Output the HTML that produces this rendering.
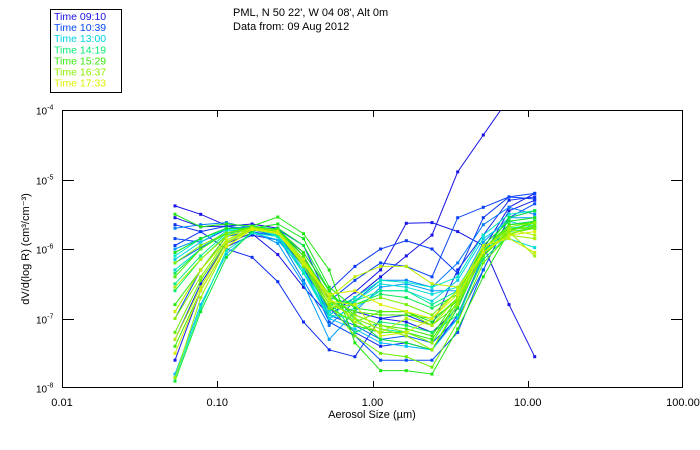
<!DOCTYPE html>
<html><head><meta charset="utf-8"><style>
body{margin:0;background:#fff;}
svg{display:block;font-family:"Liberation Sans",sans-serif;}
</style></head><body>
<svg id="chart" width="700" height="450" viewBox="0 0 700 450" xmlns="http://www.w3.org/2000/svg">
<defs><clipPath id="plotclip"><rect x="62" y="110" width="621" height="278"/></clipPath></defs>
<rect x="0" y="0" width="700" height="450" fill="#fff"/>
<g id="legend">
<rect x="50.5" y="9.5" width="71" height="83" fill="#fff" stroke="#000" stroke-width="1"/>
</g>
<text x="233" y="16" font-size="11">PML, N 50 22', W 04 08', Alt 0m</text>
<text x="233" y="30" font-size="11">Data from: 09 Aug 2012</text>
<g id="series" clip-path="url(#plotclip)"></g>
<g id="axes"></g>
<text x="372" y="418" font-size="11" text-anchor="middle">Aerosol Size (µm)</text>
<text transform="translate(29,249) rotate(-90)" font-size="11" text-anchor="middle">dV/d(log R) (cm³/cm⁻³)</text>
</svg>
<script>
const legendTimes = ["09:10","10:39","13:00","14:19","15:29","16:37","17:33"];
const legendHours = [9.17,10.65,13.0,14.32,15.48,16.62,17.55];
const sizeLogStart = -1.272;
const sizeLogStep = 0.1655;
const seriesHours = [9.17,9.3,9.5,9.7,9.9,10.2,10.5,10.65,11,11.5,12,12.5,13,13.3,13.6,13.9,14.2,14.4,14.6,14.8,15.0,15.2,15.4,15.6,15.8,16.0,16.2,16.4,16.6,16.8,17.0,17.2,17.35,17.5];
const seriesLogDV = [
[-5.38,-5.5,-5.66,-5.78,-6.08,-6.55,-6.95,-6.7,-6.4,-6.1,-5.8,-4.89,-4.36,-3.83,-3.3],
[-5.55,-5.68,-5.67,-5.64,-5.7,-6.1,-6.9,-6.62,-6.3,-5.63,-5.62,-5.75,-5.95,-6.8,-7.55],
[-7.6,-6.6,-5.97,-5.8,-5.87,-6.2,-6.75,-6.9,-7.0,-7.05,-7.2,-6.85,-6.0,-5.4,-5.2],
[-7.3,-6.5,-5.92,-5.77,-5.87,-6.3,-6.85,-7.2,-7.4,-7.35,-7.45,-6.95,-6.1,-5.45,-5.3],
[-5.65,-5.75,-6.0,-6.12,-6.47,-7.05,-7.45,-7.55,-7.0,-6.95,-7.1,-6.3,-5.8,-5.3,-5.25],
[-5.95,-5.75,-5.67,-5.72,-5.74,-6.05,-6.6,-6.25,-6.0,-5.88,-6.0,-6.35,-5.55,-5.25,-5.28],
[-5.85,-5.9,-5.72,-5.67,-5.72,-5.95,-6.75,-6.45,-6.2,-6.25,-6.4,-5.55,-5.4,-5.25,-5.2],
[-7.0,-6.3,-5.82,-5.75,-5.82,-6.25,-7.05,-7.25,-7.6,-7.6,-7.6,-7.2,-6.3,-5.55,-5.35],
[-6.2,-5.98,-5.77,-5.72,-5.82,-6.2,-6.95,-7.1,-7.3,-7.25,-7.35,-7.0,-6.3,-5.55,-5.45],
[-5.7,-5.65,-5.62,-5.7,-5.82,-6.45,-7.1,-6.75,-6.45,-6.45,-6.55,-6.2,-5.65,-5.4,-5.5],
[-6.0,-5.85,-5.7,-5.74,-5.92,-6.5,-7.3,-6.9,-6.55,-6.5,-6.6,-6.6,-5.9,-5.55,-5.55],
[-7.8,-6.8,-6.07,-5.77,-5.87,-6.3,-7.0,-7.15,-7.35,-7.4,-7.45,-7.0,-6.1,-5.65,-5.6],
[-6.15,-5.9,-5.7,-5.69,-5.82,-6.35,-7.0,-6.85,-6.6,-6.6,-6.75,-6.45,-5.85,-5.6,-5.7],
[-6.3,-6.0,-5.74,-5.72,-5.8,-6.3,-6.95,-6.75,-6.5,-6.55,-6.65,-6.55,-6.0,-5.85,-5.98],
[-6.1,-5.85,-5.72,-5.7,-5.77,-6.25,-6.9,-6.7,-6.45,-6.48,-6.55,-6.4,-5.8,-5.5,-5.45],
[-7.85,-6.85,-6.02,-5.77,-5.82,-6.35,-6.95,-7.0,-7.15,-7.2,-7.35,-6.8,-6.05,-5.7,-5.65],
[-6.5,-6.1,-5.77,-5.7,-5.74,-6.2,-6.8,-6.75,-6.6,-6.6,-6.8,-6.6,-6.1,-5.75,-5.7],
[-6.6,-6.15,-5.8,-5.67,-5.72,-6.15,-6.75,-7.2,-7.05,-7.1,-7.2,-6.95,-6.15,-5.8,-5.85],
[-6.35,-6.0,-5.77,-5.69,-5.72,-6.1,-6.7,-6.8,-6.65,-6.7,-6.85,-6.65,-6.0,-5.65,-5.6],
[-7.9,-6.9,-6.12,-5.74,-5.7,-5.95,-6.6,-7.0,-7.3,-7.35,-7.45,-6.85,-6.05,-5.55,-5.45],
[-6.05,-5.85,-5.7,-5.7,-5.64,-5.85,-6.55,-6.85,-6.9,-6.9,-7.05,-6.7,-5.95,-5.6,-5.55],
[-5.5,-5.68,-5.64,-5.67,-5.54,-5.78,-6.3,-7.35,-7.75,-7.75,-7.8,-7.15,-6.4,-5.75,-5.6],
[-6.8,-6.3,-5.87,-5.7,-5.72,-6.05,-6.6,-7.1,-7.2,-7.2,-7.3,-6.75,-6.0,-5.65,-5.62],
[-7.4,-6.6,-5.97,-5.72,-5.77,-6.15,-6.65,-6.95,-7.1,-7.15,-7.25,-6.7,-6.0,-5.7,-5.7],
[-6.4,-6.0,-5.77,-5.68,-5.74,-6.1,-6.75,-6.9,-6.95,-6.95,-7.0,-6.75,-6.1,-5.72,-5.68],
[-6.9,-6.3,-5.82,-5.7,-5.76,-6.2,-6.85,-7.05,-6.9,-6.9,-7.1,-6.8,-6.1,-5.75,-5.62],
[-7.2,-6.45,-5.9,-5.72,-5.75,-6.2,-6.8,-7.25,-7.5,-7.55,-7.7,-7.05,-6.2,-5.8,-5.65],
[-6.2,-5.95,-5.77,-5.7,-5.77,-6.25,-6.85,-6.8,-6.7,-6.8,-6.95,-6.6,-6.05,-5.78,-5.7],
[-7.0,-6.4,-5.87,-5.72,-5.77,-6.2,-6.8,-6.95,-7.1,-7.2,-7.35,-6.75,-6.0,-5.68,-5.62],
[-7.85,-6.7,-5.97,-5.72,-5.76,-6.18,-6.75,-7.0,-7.15,-7.25,-7.45,-6.8,-6.05,-5.75,-6.1],
[-6.55,-6.15,-5.82,-5.69,-5.74,-6.15,-6.7,-7.05,-7.2,-7.0,-7.1,-6.7,-6.0,-5.72,-5.8],
[-7.3,-6.55,-5.92,-5.72,-5.78,-6.2,-6.7,-6.4,-6.25,-6.25,-6.5,-6.55,-6.05,-5.8,-5.85],
[-6.9,-6.3,-5.87,-5.7,-5.77,-6.15,-6.75,-6.8,-7.25,-7.2,-7.0,-6.6,-5.95,-5.85,-6.05],
[-7.5,-6.6,-5.97,-5.72,-5.76,-6.22,-6.65,-6.6,-6.8,-6.9,-7.0,-6.65,-6.05,-5.8,-5.75]
];
const xTickValues = [0.01,0.1,1,10,100];
const xTickLabels = ["0.01","0.10","1.00","10.00","100.00"];
const yTickExps = [-4,-5,-6,-7,-8];

const NS = "http://www.w3.org/2000/svg";
const PX0=62, PX1=683, PY0=110, PY1=388;
function xScale(v){ return PX0 + (Math.log10(v) + 2) / 4 * (PX1-PX0); }
function yScale(lg){ return PY0 + (-4 - lg) / 4 * (PY1-PY0); }
function mk(tag, attrs, parent){ const e=document.createElementNS(NS,tag); for(const k in attrs) e.setAttribute(k,attrs[k]); parent.appendChild(e); return e; }
const stops=[[0,[24,16,230]],[0.2,[0,80,255]],[0.4,[0,190,255]],[0.55,[0,240,190]],[0.7,[20,230,20]],[0.85,[110,240,0]],[1,[220,240,0]]];
function colorFor(h){ let t=(h-9.17)/(17.55-9.17); t=Math.max(0,Math.min(1,t));
  for(let i=1;i<stops.length;i++){ if(t<=stops[i][0]){ const a=stops[i-1],b=stops[i]; const f=(t-a[0])/(b[0]-a[0]);
    const c=a[1].map((v,j)=>Math.round(v+(b[1][j]-v)*f)); return `rgb(${c[0]},${c[1]},${c[2]})`; } } return "rgb(220,240,0)"; }

const legend=document.getElementById("legend");
legendTimes.forEach((t,i)=>{
  const tx=mk("text",{x:54,y:20+i*11.1,"font-size":"10.5",fill:colorFor(legendHours[i])},legend);
  
  
  tx.textContent="Time "+t;
});

const sg=document.getElementById("series");
seriesLogDV.forEach((vals,si)=>{
  const col=colorFor(seriesHours[si]);
  const g=mk("g",{},sg);
  
  
  const pts=vals.map((lg,i)=>[xScale(Math.pow(10,sizeLogStart+i*sizeLogStep)), yScale(lg)]);
  mk("polyline",{points:pts.map(p=>p[0].toFixed(1)+","+p[1].toFixed(1)).join(" "),fill:"none",stroke:col,"stroke-width":"1"},g);
  pts.forEach(p=>{ const r=mk("rect",{x:(p[0]-1.5).toFixed(1),y:(p[1]-1.5).toFixed(1),width:3,height:3,fill:col},g);
    
     });
});

const ax=document.getElementById("axes");
const frame=mk("rect",{x:PX0+0.5,y:PY0+0.5,width:PX1-PX0-1,height:PY1-PY0-1,fill:"none",stroke:"#000","stroke-width":"1"},ax);


xTickValues.forEach((v,i)=>{
  const x=Math.round(xScale(v))+0.5;
  if(i>0&&i<xTickValues.length-1){
    mk("line",{x1:x,x2:x,y1:PY1,y2:PY1-7,stroke:"#000"},ax);
    mk("line",{x1:x,x2:x,y1:PY0,y2:PY0+7,stroke:"#000"},ax);
  }
  const t=mk("text",{x:xScale(v),y:406,"font-size":"11","text-anchor":"middle"},ax);
  
  
  t.textContent=xTickLabels[i];
});
yTickExps.forEach((e,i)=>{
  const y=Math.round(yScale(e))+0.5;
  if(i>0&&i<yTickExps.length-1){
    mk("line",{x1:PX0,x2:PX0+12,y1:y,y2:y,stroke:"#000"},ax);
    mk("line",{x1:PX1,x2:PX1-12,y1:y,y2:y,stroke:"#000"},ax);
  }
  const t=mk("text",{x:36,y:y+4,"font-size":"10"},ax);
  
  
  t.textContent="10";
  const s=mk("tspan",{dy:"-5","font-size":"7"},t); s.textContent=String(e);
});
</script>
</body></html>
